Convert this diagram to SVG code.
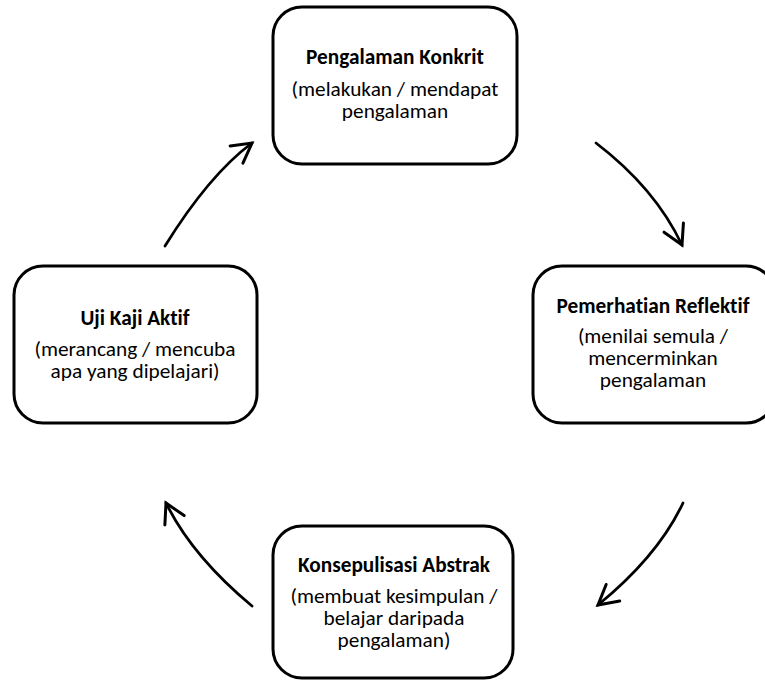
<svg xmlns="http://www.w3.org/2000/svg" width="765" height="681" viewBox="0 0 765 681">
<defs>
<style>
.box{fill:#fff;stroke:#000;stroke-width:3}
.t{font-family:Carlito,Lato,"Liberation Sans",sans-serif;font-size:21.3px;fill:#000;text-anchor:middle;font-variant-ligatures:none}
.b{font-weight:bold}
.c{fill:none;stroke:#000;stroke-width:2.8;stroke-linecap:round}
</style>
<marker id="ah" markerUnits="userSpaceOnUse" orient="auto" markerWidth="30" markerHeight="30" refX="0" refY="0" viewBox="-22 -14 26 28" overflow="visible">
<path d="M-18,-10 L0,0 L-18,10" fill="none" stroke="#000" stroke-width="2.8" stroke-linecap="round" stroke-linejoin="miter"/>
</marker>
</defs>
<rect width="765" height="681" fill="#fff"/>
<g id="connectors">
<path class="c" d="M596,143 Q655,188 682,245" marker-end="url(#ah)"/>
<path class="c" d="M683,503 Q658,556 598,605" marker-end="url(#ah)"/>
<path class="c" d="M252,606 Q192,556 166,503" marker-end="url(#ah)"/>
<path class="c" d="M165,246 Q209,175 252,143" marker-end="url(#ah)"/>
</g>
<g id="node-pengalaman">
<rect class="box" x="273" y="7" width="244" height="157" rx="29"/>
<text class="t b" x="395" y="64">Pengalaman Konkrit</text>
<text class="t" x="395" y="96">(melakukan / mendapat</text>
<text class="t" x="395" y="118">pengalaman</text>
</g>
<g id="node-pemerhatian">
<rect class="box" x="533" y="266" width="242" height="157" rx="29"/>
<text class="t b" x="653" y="313">Pemerhatian Reflektif</text>
<text class="t" x="653" y="343">(menilai semula /</text>
<text class="t" x="653" y="365">mencerminkan</text>
<text class="t" x="653" y="387">pengalaman</text>
</g>
<g id="node-konsepulisasi">
<rect class="box" x="273" y="526" width="240" height="152" rx="29"/>
<text class="t b" x="394" y="572">Konsepulisasi Abstrak</text>
<text class="t" x="394" y="603">(membuat kesimpulan /</text>
<text class="t" x="394" y="625">belajar daripada</text>
<text class="t" x="394" y="647">pengalaman)</text>
</g>
<g id="node-ujikaji">
<rect class="box" x="14" y="266" width="243" height="157" rx="29"/>
<text class="t b" x="135" y="325">Uji Kaji Aktif</text>
<text class="t" x="135" y="356">(merancang / mencuba</text>
<text class="t" x="135" y="378">apa yang dipelajari)</text>
</g>
</svg>
